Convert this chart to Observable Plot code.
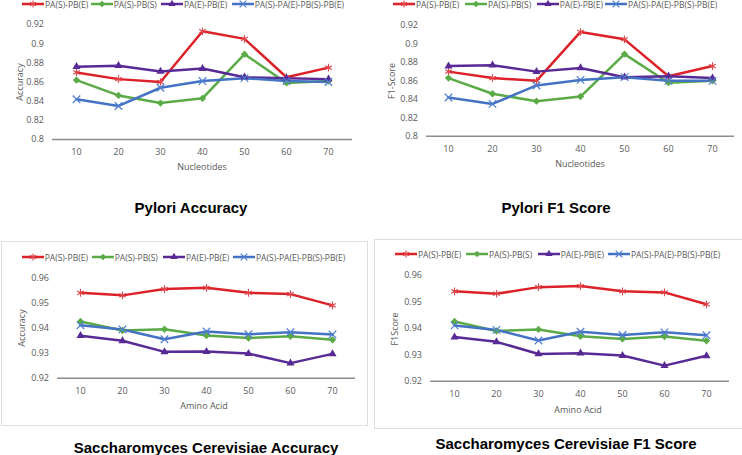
<!DOCTYPE html>
<html><head><meta charset="utf-8">
<script src="https://cdn.jsdelivr.net/npm/d3@7"></script>
<script src="https://cdn.jsdelivr.net/npm/@observablehq/plot@0.6"></script>
<style>
body{margin:0;background:#fff;}
#root{position:relative;width:742px;height:455px;overflow:hidden;background:#fff;font-family:"Open Sans",sans-serif;}
.panel{position:absolute;}
.box{position:absolute;border:1px solid #dedede;box-sizing:border-box;z-index:5;}
.litem{position:absolute;display:flex;align-items:center;height:10px;font-size:8.5px;color:#595959;white-space:nowrap;}
.litem svg{display:block;margin-right:1px;}
.title{position:absolute;font-family:"Liberation Sans",Arial,sans-serif;font-weight:bold;font-size:15px;color:#000;transform:translate(-50%,-50%);white-space:nowrap;}
.xlab{position:absolute;font-size:9px;color:#595959;white-space:nowrap;transform:translate(-50%,-50%);}
.ylab{position:absolute;font-size:9px;color:#595959;white-space:nowrap;transform:translate(-50%,-50%) rotate(-90deg);}
</style></head><body><div id="root"></div><script>
// ---- data ----
const categories = [10, 20, 30, 40, 50, 60, 70];
const seriesNames = ["PA(S)-PB(E)", "PA(S)-PB(S)", "PA(E)-PB(E)", "PA(S)-PA(E)-PB(S)-PB(E)"];

const pyloriAcc_PAS_PBE = [0.870, 0.863, 0.860, 0.913, 0.905, 0.865, 0.875];
const pyloriAcc_PAS_PBS = [0.862, 0.846, 0.838, 0.843, 0.889, 0.859, 0.861];
const pyloriAcc_PAE_PBE = [0.876, 0.877, 0.871, 0.874, 0.865, 0.864, 0.863];
const pyloriAcc_ALL     = [0.842, 0.835, 0.854, 0.861, 0.864, 0.861, 0.860];

const pyloriF1_PAS_PBE = [0.870, 0.863, 0.860, 0.913, 0.905, 0.865, 0.876];
const pyloriF1_PAS_PBS = [0.863, 0.846, 0.838, 0.843, 0.889, 0.858, 0.860];
const pyloriF1_PAE_PBE = [0.876, 0.877, 0.870, 0.874, 0.864, 0.865, 0.863];
const pyloriF1_ALL     = [0.842, 0.835, 0.855, 0.861, 0.864, 0.860, 0.860];

const yeastAcc_PAS_PBE = [0.9540, 0.9530, 0.9555, 0.9560, 0.9540, 0.9535, 0.9490];
const yeastAcc_PAS_PBS = [0.9426, 0.9390, 0.9395, 0.9370, 0.9360, 0.9367, 0.9353];
const yeastAcc_PAE_PBE = [0.9369, 0.9349, 0.9305, 0.9306, 0.9298, 0.9260, 0.9297];
const yeastAcc_ALL     = [0.9411, 0.9394, 0.9355, 0.9386, 0.9375, 0.9383, 0.9374];

const yeastF1_PAS_PBE = [0.9540, 0.9531, 0.9556, 0.9560, 0.9540, 0.9536, 0.9491];
const yeastF1_PAS_PBS = [0.9426, 0.9390, 0.9396, 0.9370, 0.9360, 0.9369, 0.9353];
const yeastF1_PAE_PBE = [0.9367, 0.9349, 0.9303, 0.9306, 0.9297, 0.9259, 0.9296];
const yeastF1_ALL     = [0.9411, 0.9394, 0.9354, 0.9387, 0.9375, 0.9385, 0.9374];

const pyloriTicks = [0.8, 0.82, 0.84, 0.86, 0.88, 0.9, 0.92];
const yeastTicks = [0.92, 0.93, 0.94, 0.95, 0.96];

// ---- styles ----
const seriesColors = ["#dc2228", "#5aab46", "#582a96", "#4472c4"];
const markerStyles = [
  {symbol: "asterisk", r: 3.6, fill: "none", stroke: "#e0474c", strokeWidth: 1.1},
  {symbol: "diamond2", r: 3.3, fill: "#5aab46", stroke: "none"},
  {symbol: "triangle", r: 3.0, fill: "#582a96", stroke: "none"},
  {symbol: "times", r: 3.5, fill: "none", stroke: "#4f7fd0", strokeWidth: 1.2}
];
const d3Symbols = {asterisk: d3.symbolAsterisk, diamond2: d3.symbolDiamond2, triangle: d3.symbolTriangle, times: d3.symbolTimes};

const root = document.getElementById("root");
const fmt = d => String(+d.toFixed(2));

function addDiv(cls, text, left, top, extra) {
  const el = document.createElement("div");
  el.className = cls;
  if (text) el.textContent = text;
  el.style.left = left + "px";
  el.style.top = top + "px";
  if (extra) Object.assign(el.style, extra);
  root.appendChild(el);
  return el;
}

function legend(lefts, cy) {
  seriesNames.forEach((name, i) => {
    const item = addDiv("litem", null, lefts[i], cy - 5);
    const ns = "http://www.w3.org/2000/svg";
    const svg = document.createElementNS(ns, "svg");
    svg.setAttribute("width", 22); svg.setAttribute("height", 10);
    const ln = document.createElementNS(ns, "line");
    ln.setAttribute("x1", 0); ln.setAttribute("x2", 22); ln.setAttribute("y1", 5); ln.setAttribute("y2", 5);
    ln.setAttribute("stroke", seriesColors[i]); ln.setAttribute("stroke-width", 2.5);
    svg.appendChild(ln);
    const m = markerStyles[i];
    const p = document.createElementNS(ns, "path");
    p.setAttribute("d", d3.symbol(d3Symbols[m.symbol], Math.PI * m.r * m.r * 0.8)());
    p.setAttribute("transform", "translate(11,5)");
    p.setAttribute("fill", m.fill); p.setAttribute("stroke", m.stroke);
    if (m.strokeWidth) p.setAttribute("stroke-width", m.strokeWidth);
    svg.appendChild(p);
    item.appendChild(svg);
    const t = document.createElement("span");
    t.textContent = name;
    item.appendChild(t);
  });
}

function panel(o) {
  const data = [];
  o.values.forEach((arr, i) => categories.forEach((c, j) => data.push({series: seriesNames[i], idx: i, x: c, y: arr[j]})));
  const marks = [
    Plot.ruleY([o.domain[0]], {stroke: "#8c8c8c", strokeWidth: 1.5}),
    Plot.line(data, {x: "x", y: "y", z: "series", stroke: "series", strokeWidth: 2.5, strokeLinejoin: "round"})
  ];
  markerStyles.forEach((m, i) => {
    marks.push(Plot.dot(data.filter(d => d.idx === i), {x: "x", y: "y", ...m}));
  });
  const svg = Plot.plot({
    width: o.width, height: o.height,
    marginTop: o.mt, marginBottom: o.mb, marginLeft: o.ml, marginRight: o.mr,
    style: {background: "transparent", fontFamily: "'Open Sans', sans-serif", fontSize: "9px", color: "#595959", overflow: "visible"},
    x: {type: "point", domain: categories, padding: 0.5, tickSize: 0, tickPadding: 9, label: null},
    y: {domain: o.domain, ticks: o.ticks, tickFormat: fmt, tickSize: 0, tickPadding: 8.5, label: null},
    color: {domain: seriesNames, range: seriesColors},
    marks
  });
  svg.style.position = "absolute";
  svg.style.left = o.left + "px";
  svg.style.top = o.top + "px";
  root.appendChild(svg);
  addDiv("xlab", o.xlabel, o.xl[0], o.xl[1]);
  addDiv("ylab", o.ylabel, o.yl[0], o.yl[1]);
  addDiv("title", o.title, o.tt[0], o.tt[1]);
}

// boxes around the lower two charts
addDiv("box", null, 1, 241, {width: "367px", height: "185px"});
addDiv("box", null, 374, 239, {width: "370px", height: "190px"});

panel({left: 0, top: 0, width: 371, height: 175, mt: 24, mb: 36, ml: 52, mr: 19,
  domain: [0.8, 0.92], ticks: pyloriTicks,
  values: [pyloriAcc_PAS_PBE, pyloriAcc_PAS_PBS, pyloriAcc_PAE_PBE, pyloriAcc_ALL],
  xlabel: "Nucleotides", xl: [202, 166], ylabel: "Accuracy", yl: [19, 82],
  title: "Pylori Accuracy", tt: [191, 207]});
legend([22, 90.7, 161, 231.7], 4);

panel({left: 371, top: 0, width: 371, height: 175, mt: 25, mb: 39.3, ml: 55, mr: 8,
  domain: [0.8, 0.92], ticks: pyloriTicks,
  values: [pyloriF1_PAS_PBE, pyloriF1_PAS_PBS, pyloriF1_PAE_PBE, pyloriF1_ALL],
  xlabel: "Nucleotides", xl: [580, 163], ylabel: "F1-Score", yl: [391, 81],
  title: "Pylori F1 Score", tt: [556, 207]});
legend([393, 465, 536.7, 605], 4);

panel({left: 0, top: 230, width: 371, height: 175, mt: 47.3, mb: 27.3, ml: 57, mr: 16,
  domain: [0.92, 0.96], ticks: yeastTicks,
  values: [yeastAcc_PAS_PBE, yeastAcc_PAS_PBS, yeastAcc_PAE_PBE, yeastAcc_ALL],
  xlabel: "Amino Acid", xl: [204, 405], ylabel: "Accuracy", yl: [21, 328],
  title: "Saccharomyces Cerevisiae Accuracy", tt: [206, 446.5]});
legend([21.7, 91.7, 163, 233], 257.3);

panel({left: 371, top: 230, width: 371, height: 175, mt: 45, mb: 24.3, ml: 59, mr: 13,
  domain: [0.92, 0.96], ticks: yeastTicks,
  values: [yeastF1_PAS_PBE, yeastF1_PAS_PBS, yeastF1_PAE_PBE, yeastF1_ALL],
  xlabel: "Amino Acid", xl: [578, 409], ylabel: "F1Score", yl: [394, 329],
  title: "Saccharomyces Cerevisiae F1 Score", tt: [566, 443]});
legend([395, 466, 537.7, 608], 254);
</script></body></html>
